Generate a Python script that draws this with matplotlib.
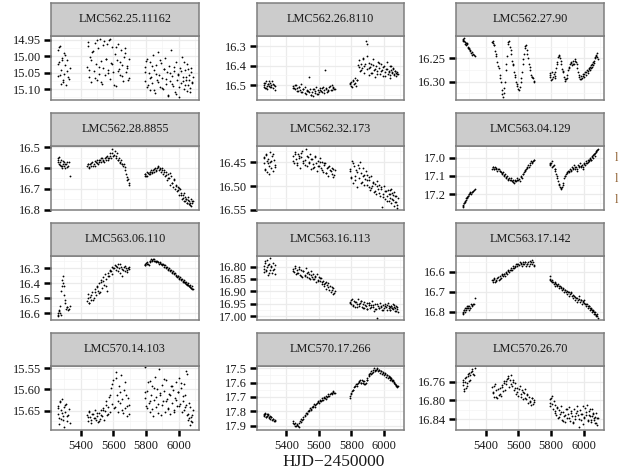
import matplotlib
matplotlib.use("Agg")
import matplotlib.pyplot as plt

# ---------------- data ----------------
season1 = [5261, 5265, 5270, 5274, 5279, 5283, 5288, 5293, 5297, 5302, 5307, 5313, 5319, 5326, 5333]
season2 = [5441, 5448, 5454, 5461, 5467, 5473, 5480, 5486, 5493, 5499,
           5505, 5512, 5518, 5525, 5531, 5537, 5544, 5550, 5557, 5563,
           5569, 5576, 5582, 5589, 5595, 5601, 5608, 5614, 5621, 5627,
           5633, 5640, 5646, 5653, 5659, 5665, 5672, 5678, 5685, 5697]
season3 = [5791, 5796, 5803, 5808, 5815, 5821, 5826, 5833, 5839, 5844,
           5851, 5857, 5862, 5869, 5875, 5880, 5887, 5893, 5898, 5905,
           5911, 5916, 5923, 5929, 5934, 5941, 5947, 5952, 5959, 5965,
           5970, 5977, 5983, 5988, 5995, 6001, 6006, 6013, 6019, 6024,
           6031, 6037, 6042, 6049, 6055, 6060, 6067, 6073, 6078, 6085]
extra1 = [5263, 5268, 5277, 5286, 5295, 5305, 5316, 5329]
extra2 = [5444, 5451, 5464, 5477, 5490, 5502, 5515, 5528, 5540, 5553, 5566,
          5579, 5592, 5604, 5617, 5630, 5643, 5656, 5669, 5682, 5689, 5694]
extra3 = [5794, 5800, 5811, 5824, 5836, 5848, 5859, 5872, 5884, 5896,
          5908, 5920, 5932, 5944, 5956, 5968, 5980, 5992, 6004, 6016,
          6028, 6034, 6040, 6046, 6052, 6058, 6064, 6070, 6076, 6082]
hjd = season1 + season2 + season3 + extra1 + extra2 + extra3

star_names = ["LMC562.25.11162", "LMC562.26.8110", "LMC562.27.90",
              "LMC562.28.8855", "LMC562.32.173", "LMC563.04.129",
              "LMC563.06.110", "LMC563.16.113", "LMC563.17.142",
              "LMC570.14.103", "LMC570.17.266", "LMC570.26.70"]

mag_562_25_11162 = [
    14.982, 15.061, 15.018, 14.967, 15.083, 15.041, 15.004, 15.072, 14.991, 15.053, 15.027, 15.088, 15.012, 15.064, 15.036,
    15.031, 14.968, 15.062, 15.003, 15.079, 14.987, 15.044, 14.959, 15.022, 15.071,
    14.976, 15.053, 14.948, 15.014, 15.084, 15.036, 14.953, 15.058, 15.007, 14.962,
    15.042, 14.951, 15.068, 15.019, 14.972, 15.049, 14.993, 15.089, 15.011, 14.963,
    15.038, 15.057, 14.981, 15.026, 15.076, 15.002, 14.974, 15.047, 15.029, 15.066,
    15.032, 15.074, 15.009, 15.093, 15.051, 15.104, 15.018, 15.063, 15.082, 14.997,
    15.043, 15.112, 15.027, 15.071, 14.988, 15.056, 15.094, 15.021, 15.067, 15.101,
    15.039, 15.006, 15.084, 15.048, 15.118, 15.029, 15.076, 14.982, 15.061, 15.091,
    15.044, 15.108, 15.017, 15.073, 15.053, 15.124, 15.034, 15.081, 15.003, 15.064,
    15.098, 15.041, 15.072, 15.023, 15.087, 15.057, 15.109, 15.036, 15.079, 15.062,
    15.024, 14.973, 15.058, 15.012, 15.079, 14.995, 15.046, 15.068,
    14.957, 15.041, 15.012, 14.983, 15.067, 14.951, 15.033, 15.078, 14.965, 15.008,
    15.052, 14.946, 15.024, 15.086, 14.971, 15.044, 15.016, 15.061, 14.989, 15.035,
    15.073, 15.009,
    15.047, 15.013, 15.088, 15.066, 15.028, 15.102, 15.054, 15.077, 15.011, 15.095,
    15.039, 15.069, 15.121, 15.052, 15.083, 15.031, 15.114, 15.058, 15.092, 15.044,
    15.074, 15.016, 15.087, 15.063, 15.105, 15.038, 15.071, 15.097, 15.049, 15.082]

mag_562_26_8110 = [
    16.498, 16.487, 16.512, 16.479, 16.503, 16.519, 16.491, 16.505, 16.508, 16.486, 16.497, 16.476, 16.514, 16.501, 16.522,
    16.503, 16.512, 16.521, 16.497, 16.516, 16.531, 16.508, 16.524, 16.495, 16.533,
    16.518, 16.507, 16.542, 16.523, 16.529, 16.458, 16.519, 16.547, 16.534, 16.556,
    16.521, 16.538, 16.511, 16.544, 16.526, 16.532, 16.514, 16.527, 16.536, 16.509,
    16.524, 16.421, 16.513, 16.535, 16.522, 16.508, 16.526, 16.497, 16.515, 16.521,
    16.496, 16.483, 16.511, 16.472, 16.493, 16.462, 16.502, 16.474, 16.398, 16.372,
    16.428, 16.391, 16.412, 16.362, 16.437, 16.403, 16.272, 16.418, 16.291, 16.384,
    16.447, 16.409, 16.393, 16.438, 16.366, 16.421, 16.457, 16.401, 16.429, 16.382,
    16.413, 16.442, 16.394, 16.423, 16.452, 16.404, 16.431, 16.417, 16.379, 16.443,
    16.426, 16.461, 16.403, 16.434, 16.412, 16.441, 16.425, 16.452, 16.433, 16.444,
    16.507, 16.489, 16.515, 16.496, 16.478, 16.511, 16.493, 16.505,
    16.515, 16.498, 16.527, 16.509, 16.533, 16.517, 16.541, 16.528, 16.536, 16.552,
    16.519, 16.531, 16.545, 16.523, 16.512, 16.537, 16.518, 16.529, 16.506, 16.523,
    16.511, 16.519,
    16.489, 16.505, 16.478, 16.486, 16.471, 16.405, 16.421, 16.367, 16.394, 16.351,
    16.412, 16.436, 16.397, 16.418, 16.445, 16.389, 16.427, 16.408, 16.452, 16.416,
    16.433, 16.402, 16.447, 16.421, 16.438, 16.415, 16.449, 16.427, 16.436, 16.441]

mag_562_27_90 = [
    16.210, 16.208, 16.213, 16.215, 16.218, 16.222, 16.220, 16.226, 16.230, 16.228, 16.235, 16.238, 16.242, 16.240, 16.245,
    16.215, 16.218, 16.222, 16.235, 16.245, 16.258, 16.270, 16.285, 16.300, 16.318,
    16.332, 16.325, 16.300, 16.275, 16.245, 16.220, 16.212, 16.225, 16.240, 16.255,
    16.265, 16.280, 16.290, 16.300, 16.310, 16.315, 16.312, 16.300, 16.280, 16.262,
    16.240, 16.228, 16.222, 16.232, 16.250, 16.262, 16.275, 16.285, 16.290, 16.298,
    16.285, 16.290, 16.278, 16.295, 16.283, 16.292, 16.288, 16.270, 16.258, 16.248,
    16.242, 16.250, 16.262, 16.272, 16.280, 16.290, 16.298, 16.295, 16.285, 16.275,
    16.268, 16.262, 16.258, 16.265, 16.255, 16.262, 16.252, 16.258, 16.270, 16.280,
    16.290, 16.295, 16.288, 16.292, 16.283, 16.290, 16.280, 16.285, 16.275, 16.282,
    16.270, 16.275, 16.265, 16.268, 16.258, 16.260, 16.250, 16.245, 16.238, 16.252,
    16.212, 16.206, 16.219, 16.217, 16.228, 16.233, 16.236, 16.243,
    16.213, 16.221, 16.241, 16.266, 16.292, 16.327, 16.314, 16.262, 16.214, 16.232,
    16.262, 16.286, 16.304, 16.318, 16.291, 16.251, 16.224, 16.241, 16.268, 16.289,
    16.292, 16.301,
    16.281, 16.296, 16.289, 16.279, 16.262, 16.244, 16.256, 16.276, 16.294, 16.291,
    16.271, 16.259, 16.261, 16.256, 16.263, 16.285, 16.293, 16.287, 16.284, 16.279,
    16.277, 16.272, 16.269, 16.271, 16.262, 16.264, 16.255, 16.248, 16.242, 16.247]

mag_562_28_8855 = [
    16.56, 16.55, 16.58, 16.57, 16.59, 16.56, 16.60, 16.58, 16.57, 16.59, 16.60, 16.58, 16.57, 16.59, 16.64,
    16.59, 16.58, 16.60, 16.58, 16.59, 16.57, 16.58, 16.59, 16.57, 16.56,
    16.58, 16.57, 16.56, 16.57, 16.55, 16.56, 16.57, 16.55, 16.56, 16.54,
    16.56, 16.55, 16.53, 16.55, 16.51, 16.54, 16.52, 16.55, 16.53, 16.56,
    16.55, 16.57, 16.56, 16.58, 16.59, 16.58, 16.61, 16.63, 16.66, 16.68,
    16.64, 16.63, 16.64, 16.62, 16.63, 16.62, 16.63, 16.61, 16.62, 16.61,
    16.62, 16.60, 16.61, 16.60, 16.59, 16.61, 16.60, 16.62, 16.60, 16.63,
    16.61, 16.64, 16.62, 16.66, 16.63, 16.65, 16.68, 16.64, 16.67, 16.69,
    16.66, 16.70, 16.68, 16.71, 16.69, 16.73, 16.70, 16.72, 16.75, 16.73,
    16.76, 16.74, 16.75, 16.77, 16.74, 16.76, 16.78, 16.75, 16.77, 16.76,
    16.573, 16.548, 16.586, 16.592, 16.566, 16.583, 16.595, 16.571,
    16.583, 16.596, 16.574, 16.588, 16.566, 16.574, 16.563, 16.552, 16.566, 16.548,
    16.553, 16.542, 16.528, 16.536, 16.544, 16.562, 16.574, 16.581, 16.596, 16.642,
    16.655, 16.672,
    16.628, 16.637, 16.626, 16.618, 16.624, 16.607, 16.614, 16.596, 16.605, 16.611,
    16.618, 16.633, 16.648, 16.626, 16.672, 16.655, 16.688, 16.708, 16.694, 16.731,
    16.742, 16.722, 16.761, 16.748, 16.768, 16.752, 16.774, 16.766, 16.781, 16.758]

mag_562_32_173 = [
    16.452, 16.438, 16.463, 16.431, 16.447, 16.471, 16.442, 16.458, 16.449, 16.428, 16.461, 16.437, 16.468, 16.445, 16.456,
    16.437, 16.452, 16.428, 16.443, 16.455, 16.433, 16.441, 16.462, 16.438, 16.426,
    16.451, 16.444, 16.421, 16.457, 16.439, 16.448, 16.432, 16.463, 16.442, 16.454,
    16.459, 16.436, 16.451, 16.468, 16.447, 16.458, 16.441, 16.462, 16.449, 16.471,
    16.456, 16.452, 16.473, 16.461, 16.478, 16.457, 16.469, 16.462, 16.481, 16.466,
    16.468, 16.482, 16.447, 16.493, 16.458, 16.479, 16.466, 16.502, 16.455, 16.484,
    16.449, 16.472, 16.491, 16.461, 16.477, 16.498, 16.469, 16.488, 16.476, 16.503,
    16.487, 16.509, 16.479, 16.501, 16.492, 16.512, 16.496, 16.518, 16.489, 16.507,
    16.498, 16.521, 16.506, 16.545, 16.516, 16.499, 16.528, 16.511, 16.522, 16.508,
    16.531, 16.517, 16.506, 16.527, 16.519, 16.512, 16.533, 16.521, 16.541, 16.526,
    16.441, 16.466, 16.435, 16.452, 16.474, 16.446, 16.433, 16.459,
    16.446, 16.431, 16.452, 16.437, 16.429, 16.447, 16.455, 16.436, 16.451, 16.443,
    16.461, 16.439, 16.457, 16.448, 16.466, 16.451, 16.472, 16.459, 16.467, 16.474,
    16.463, 16.476,
    16.463, 16.481, 16.452, 16.487, 16.471, 16.462, 16.494, 16.478, 16.485, 16.497,
    16.481, 16.504, 16.493, 16.511, 16.499, 16.515, 16.503, 16.524, 16.511, 16.532,
    16.518, 16.509, 16.526, 16.537, 16.515, 16.529, 16.543, 16.522, 16.534, 16.546]

mag_563_04_129 = [
    17.27, 17.26, 17.25, 17.24, 17.23, 17.22, 17.22, 17.21, 17.20, 17.20, 17.19, 17.20, 17.19, 17.18, 17.17,
    17.06, 17.05, 17.06, 17.05, 17.06, 17.07, 17.06, 17.07, 17.08, 17.09,
    17.08, 17.10, 17.09, 17.11, 17.10, 17.12, 17.11, 17.12, 17.11, 17.13,
    17.12, 17.14, 17.12, 17.13, 17.11, 17.12, 17.13, 17.10, 17.11, 17.09,
    17.08, 17.07, 17.06, 17.05, 17.04, 17.05, 17.03, 17.02, 17.03, 17.01,
    17.03, 17.04, 17.02, 17.05, 17.04, 17.06, 17.07, 17.09, 17.11, 17.13,
    17.15, 17.16, 17.17, 17.16, 17.14, 17.11, 17.10, 17.09, 17.08, 17.07,
    17.08, 17.06, 17.07, 17.05, 17.06, 17.04, 17.06, 17.05, 17.07, 17.04,
    17.05, 17.03, 17.05, 17.04, 17.06, 17.03, 17.04, 17.02, 17.03, 17.01,
    17.02, 17.00, 17.01, 16.99, 17.00, 16.98, 16.99, 16.97, 16.96, 16.95,
    17.266, 17.248, 17.236, 17.214, 17.208, 17.193, 17.188, 17.176,
    17.052, 17.061, 17.058, 17.064, 17.072, 17.083, 17.094, 17.104, 17.116, 17.124,
    17.131, 17.128, 17.122, 17.118, 17.104, 17.088, 17.066, 17.054, 17.038, 17.024,
    17.019, 17.012,
    17.036, 17.028, 17.044, 17.063, 17.098, 17.142, 17.163, 17.151, 17.102, 17.085,
    17.074, 17.066, 17.058, 17.052, 17.061, 17.048, 17.043, 17.052, 17.036, 17.028,
    17.022, 17.013, 17.006, 17.012, 16.994, 16.987, 16.982, 16.973, 16.962, 16.957]

mag_563_06_110 = [
    16.60, 16.62, 16.58, 16.55, 16.61, 16.45, 16.38, 16.35, 16.42, 16.48, 16.53, 16.57, 16.56, 16.58, 16.55,
    16.52, 16.47, 16.53, 16.49, 16.51, 16.46, 16.50, 16.44, 16.48, 16.42,
    16.45, 16.40, 16.46, 16.38, 16.43, 16.36, 16.41, 16.34, 16.37, 16.45,
    16.33, 16.35, 16.31, 16.32, 16.29, 16.30, 16.28, 16.31, 16.29, 16.27,
    16.30, 16.33, 16.29, 16.35, 16.31, 16.29, 16.32, 16.30, 16.31, 16.29,
    16.28, 16.27, 16.27, 16.26, 16.28, 16.26, 16.25, 16.24, 16.25, 16.24,
    16.25, 16.25, 16.26, 16.25, 16.26, 16.27, 16.26, 16.27, 16.28, 16.27,
    16.29, 16.28, 16.30, 16.29, 16.31, 16.30, 16.32, 16.31, 16.33, 16.32,
    16.34, 16.33, 16.35, 16.36, 16.35, 16.37, 16.36, 16.38, 16.37, 16.39,
    16.38, 16.40, 16.39, 16.41, 16.40, 16.42, 16.41, 16.43, 16.42, 16.44,
    16.612, 16.587, 16.596, 16.418, 16.396, 16.512, 16.561, 16.572,
    16.496, 16.534, 16.478, 16.512, 16.457, 16.423, 16.468, 16.392, 16.386, 16.418,
    16.352, 16.318, 16.337, 16.296, 16.282, 16.316, 16.274, 16.306, 16.284, 16.322,
    16.296, 16.308,
    16.276, 16.262, 16.274, 16.253, 16.246, 16.238, 16.251, 16.257, 16.262, 16.273,
    16.281, 16.292, 16.304, 16.313, 16.322, 16.331, 16.342, 16.351, 16.362, 16.374,
    16.383, 16.391, 16.394, 16.402, 16.408, 16.412, 16.418, 16.426, 16.431, 16.438]

mag_563_16_113 = [
    16.796, 16.821, 16.784, 16.812, 16.772, 16.803, 16.834, 16.789, 16.815, 16.765, 16.798, 16.826, 16.786, 16.809, 16.831,
    16.809, 16.823, 16.797, 16.831, 16.814, 16.826, 16.803, 16.835, 16.812, 16.841,
    16.818, 16.833, 16.806, 16.844, 16.822, 16.829, 16.852, 16.817, 16.842, 16.831,
    16.849, 16.836, 16.861, 16.828, 16.853, 16.844, 16.859, 16.848, 16.872, 16.857,
    16.878, 16.866, 16.889, 16.874, 16.868, 16.893, 16.902, 16.884, 16.912, 16.897,
    16.942, 16.951, 16.933, 16.954, 16.939, 16.962, 16.944, 16.951, 16.931, 16.958,
    16.947, 16.938, 16.964, 16.952, 16.969, 16.943, 16.961, 16.949, 16.972, 16.957,
    16.946, 16.968, 16.955, 16.941, 16.963, 16.978, 16.952, 16.971, 17.008, 16.959,
    16.967, 16.948, 16.962, 16.976, 16.957, 16.969, 16.951, 16.963, 16.974, 16.946,
    16.961, 16.977, 16.958, 16.968, 16.953, 16.964, 16.981, 16.959, 16.972, 16.984,
    16.808, 16.778, 16.817, 16.794, 16.826, 16.801, 16.813, 16.792,
    16.816, 16.806, 16.827, 16.811, 16.836, 16.819, 16.839, 16.826, 16.845, 16.833,
    16.851, 16.842, 16.857, 16.846, 16.864, 16.871, 16.862, 16.883, 16.879, 16.894,
    16.887, 16.905,
    16.947, 16.936, 16.958, 16.944, 16.962, 16.951, 16.939, 16.966, 16.955, 16.971,
    16.948, 16.963, 16.957, 16.973, 16.952, 16.967, 16.959, 16.975, 16.961, 16.954,
    16.969, 16.963, 16.977, 16.958, 16.966, 16.972, 16.955, 16.968, 16.979, 16.962]

mag_563_17_142 = [
    16.80, 16.81, 16.79, 16.80, 16.78, 16.79, 16.77, 16.78, 16.79, 16.77, 16.78, 16.76, 16.77, 16.76, 16.73,
    16.64, 16.65, 16.63, 16.65, 16.64, 16.63, 16.64, 16.62, 16.63, 16.61,
    16.62, 16.61, 16.62, 16.60, 16.61, 16.59, 16.60, 16.59, 16.58, 16.59,
    16.57, 16.58, 16.57, 16.56, 16.57, 16.56, 16.55, 16.56, 16.57, 16.55,
    16.56, 16.55, 16.57, 16.56, 16.55, 16.57, 16.56, 16.55, 16.54, 16.57,
    16.62, 16.64, 16.65, 16.64, 16.66, 16.65, 16.67, 16.66, 16.67, 16.66,
    16.68, 16.67, 16.68, 16.69, 16.68, 16.70, 16.69, 16.70, 16.71, 16.70,
    16.72, 16.71, 16.70, 16.72, 16.73, 16.72, 16.74, 16.73, 16.75, 16.74,
    16.72, 16.75, 16.74, 16.76, 16.75, 16.74, 16.76, 16.77, 16.76, 16.78,
    16.77, 16.79, 16.78, 16.80, 16.79, 16.81, 16.80, 16.82, 16.81, 16.83,
    16.806, 16.792, 16.784, 16.781, 16.773, 16.782, 16.768, 16.761,
    16.643, 16.636, 16.648, 16.628, 16.638, 16.618, 16.612, 16.604, 16.596, 16.588,
    16.581, 16.574, 16.562, 16.566, 16.553, 16.562, 16.548, 16.559, 16.546, 16.562,
    16.551, 16.566,
    16.634, 16.646, 16.652, 16.658, 16.664, 16.672, 16.676, 16.684, 16.691, 16.696,
    16.703, 16.708, 16.718, 16.726, 16.731, 16.738, 16.742, 16.748, 16.756, 16.762,
    16.771, 16.774, 16.781, 16.786, 16.792, 16.798, 16.804, 16.811, 16.817, 16.824]

mag_570_14_103 = [
    15.657, 15.638, 15.681, 15.627, 15.669, 15.648, 15.622, 15.663, 15.641, 15.688, 15.652, 15.633, 15.674, 15.659, 15.679,
    15.661, 15.673, 15.652, 15.664, 15.679, 15.657, 15.668, 15.649, 15.671, 15.662,
    15.677, 15.655, 15.669, 15.647, 15.663, 15.643, 15.672, 15.651, 15.628, 15.659,
    15.641, 15.618, 15.652, 15.596, 15.634, 15.578, 15.642, 15.558, 15.612, 15.653,
    15.592, 15.631, 15.567, 15.622, 15.656, 15.601, 15.644, 15.613, 15.662, 15.637,
    15.621, 15.548, 15.643, 15.603, 15.632, 15.581, 15.652, 15.614, 15.592, 15.663,
    15.624, 15.571, 15.641, 15.598, 15.633, 15.552, 15.612, 15.661, 15.589, 15.628,
    15.604, 15.653, 15.578, 15.622, 15.644, 15.611, 15.658, 15.593, 15.631, 15.602,
    15.649, 15.619, 15.583, 15.638, 15.607, 15.572, 15.634, 15.597, 15.652, 15.616,
    15.588, 15.642, 15.557, 15.661, 15.671, 15.632, 15.683, 15.664, 15.676, 15.648,
    15.643, 15.667, 15.629, 15.654, 15.671, 15.636, 15.662, 15.645,
    15.664, 15.651, 15.672, 15.658, 15.667, 15.654, 15.673, 15.661, 15.648, 15.636,
    15.657, 15.614, 15.588, 15.643, 15.573, 15.627, 15.606, 15.648, 15.582, 15.639,
    15.621, 15.658,
    15.606, 15.638, 15.582, 15.626, 15.645, 15.597, 15.617, 15.654, 15.609, 15.637,
    15.575, 15.628, 15.646, 15.613, 15.591, 15.652, 15.624, 15.606, 15.639, 15.585,
    15.627, 15.648, 15.612, 15.636, 15.563, 15.657, 15.668, 15.641, 15.673, 15.659]

mag_570_17_266 = [
    17.82, 17.83, 17.81, 17.84, 17.82, 17.83, 17.82, 17.84, 17.83, 17.85, 17.84, 17.86, 17.85, 17.87, 17.86,
    17.87, 17.89, 17.88, 17.90, 17.89, 17.90, 17.88, 17.87, 17.85, 17.86,
    17.84, 17.83, 17.81, 17.82, 17.80, 17.79, 17.78, 17.79, 17.77, 17.76,
    17.75, 17.77, 17.75, 17.74, 17.73, 17.74, 17.72, 17.73, 17.71, 17.72,
    17.70, 17.71, 17.69, 17.70, 17.68, 17.69, 17.67, 17.68, 17.66, 17.67,
    17.71, 17.68, 17.66, 17.65, 17.63, 17.62, 17.61, 17.62, 17.60, 17.59,
    17.58, 17.60, 17.58, 17.60, 17.61, 17.59, 17.60, 17.57, 17.58, 17.55,
    17.54, 17.53, 17.52, 17.53, 17.51, 17.50, 17.52, 17.51, 17.50, 17.52,
    17.51, 17.53, 17.52, 17.54, 17.53, 17.55, 17.54, 17.56, 17.55, 17.57,
    17.56, 17.58, 17.57, 17.59, 17.58, 17.60, 17.61, 17.62, 17.63, 17.62,
    17.826, 17.818, 17.836, 17.827, 17.843, 17.838, 17.852, 17.864,
    17.884, 17.902, 17.894, 17.909, 17.872, 17.851, 17.826, 17.813, 17.796, 17.784,
    17.768, 17.756, 17.738, 17.731, 17.722, 17.706, 17.712, 17.692, 17.681, 17.674,
    17.662, 17.671,
    17.692, 17.671, 17.648, 17.626, 17.608, 17.594, 17.604, 17.589, 17.606, 17.582,
    17.556, 17.538, 17.524, 17.512, 17.506, 17.514, 17.521, 17.528, 17.536, 17.548,
    17.554, 17.566, 17.561, 17.574, 17.582, 17.588, 17.596, 17.608, 17.614, 17.622]

mag_570_26_70 = [
    16.768, 16.757, 16.781, 16.762, 16.774, 16.751, 16.763, 16.748, 16.742, 16.758, 16.746, 16.739, 16.734, 16.743, 16.731,
    16.771, 16.784, 16.792, 16.766, 16.779, 16.796, 16.788, 16.774, 16.791, 16.768,
    16.781, 16.759, 16.777, 16.766, 16.754, 16.748, 16.771, 16.757, 16.746, 16.769,
    16.756, 16.778, 16.764, 16.787, 16.773, 16.791, 16.769, 16.786, 16.778, 16.797,
    16.784, 16.776, 16.798, 16.789, 16.806, 16.792, 16.801, 16.809, 16.796, 16.804,
    16.798, 16.812, 16.791, 16.807, 16.801, 16.822, 16.809, 16.831, 16.817, 16.838,
    16.821, 16.829, 16.812, 16.841, 16.824, 16.833, 16.846, 16.819, 16.837, 16.828,
    16.814, 16.843, 16.822, 16.834, 16.848, 16.818, 16.839, 16.827, 16.811, 16.832,
    16.856, 16.821, 16.842, 16.829, 16.813, 16.838, 16.817, 16.831, 16.809, 16.843,
    16.823, 16.834, 16.841, 16.819, 16.827, 16.838, 16.848, 16.826, 16.852, 16.837,
    16.761, 16.776, 16.752, 16.769, 16.744, 16.756, 16.738, 16.747,
    16.782, 16.769, 16.793, 16.776, 16.787, 16.772, 16.763, 16.758, 16.752, 16.766,
    16.761, 16.774, 16.782, 16.775, 16.793, 16.782, 16.794, 16.787, 16.803, 16.795,
    16.808, 16.799,
    16.806, 16.794, 16.818, 16.826, 16.815, 16.836, 16.824, 16.844, 16.831, 16.819,
    16.837, 16.826, 16.845, 16.833, 16.822, 16.839, 16.828, 16.851, 16.835, 16.824,
    16.842, 16.831, 16.819, 16.846, 16.833, 16.828, 16.841, 16.836, 16.849, 16.838]

star_mags = [mag_562_25_11162, mag_562_26_8110, mag_562_27_90,
             mag_562_28_8855, mag_562_32_173, mag_563_04_129,
             mag_563_06_110, mag_563_16_113, mag_563_17_142,
             mag_570_14_103, mag_570_17_266, mag_570_26_70]

ytick_labels = [["14.95", "15.00", "15.05", "15.10"],
                ["16.3", "16.4", "16.5"],
                ["16.25", "16.30"],
                ["16.5", "16.6", "16.7", "16.8"],
                ["16.45", "16.50", "16.55"],
                ["17.0", "17.1", "17.2"],
                ["16.3", "16.4", "16.5", "16.6"],
                ["16.80", "16.85", "16.90", "16.95", "17.00"],
                ["16.6", "16.7", "16.8"],
                ["15.55", "15.60", "15.65"],
                ["17.5", "17.6", "17.7", "17.8", "17.9"],
                ["16.76", "16.80", "16.84"]]

xtick_labels = ["5400", "5600", "5800", "6000"]
x_title = "HJD\u22122450000"

# ---------------- layout / style ----------------
y_limits = [(15.133, 14.938), (16.575, 16.249), (16.339, 16.202),
            (16.802, 16.494), (16.551, 16.415), (17.286, 16.936),
            (16.645, 16.218), (17.016, 16.757), (16.842, 16.520),
            (15.695, 15.545), (17.930, 17.484), (16.863, 16.727)]
x_limits = (5220, 6123)

W, H = 624, 474
col_x = [(51, 199), (257, 404), (456, 604)]
row_top = [36, 146, 256, 366]
panel_h = 64
strip_h = 33

SERIF = ["Liberation Serif", "DejaVu Serif"]
border_col = "#7f7f7f"
grid_col = "#ebebeb"

fig = plt.figure(figsize=(W / 100, H / 100), dpi=100)
fig.patch.set_facecolor("white")

for i, (name, mags) in enumerate(zip(star_names, star_mags)):
    assert len(mags) == len(hjd), (name, len(mags), len(hjd))
    r, c = divmod(i, 3)
    x0, x1 = col_x[c]
    top = row_top[r]
    ax = fig.add_axes([x0 / W, 1 - (top + panel_h) / H, (x1 - x0) / W, panel_h / H])
    ax.set_facecolor("white")
    ax.scatter(hjd, mags, s=1.7, c="#000000", linewidths=0, zorder=3)
    ax.set_xlim(*x_limits)
    ax.set_ylim(*y_limits[i])

    xt = [float(v) for v in xtick_labels]
    ax.set_xticks(xt)
    ax.set_xticks([5300, 5500, 5700, 5900, 6100], minor=True)
    yt = [float(v) for v in ytick_labels[i]]
    ax.set_yticks(yt)
    ax.set_yticklabels(ytick_labels[i], family=SERIF, fontsize=8.9, color="#1a1a1a")
    step = yt[1] - yt[0]
    lo, hi = min(y_limits[i]), max(y_limits[i])
    minors = [yt[0] + step * (k + 0.5) for k in range(-3, len(yt) + 3)]
    ax.set_yticks([m for m in minors if lo <= m <= hi], minor=True)

    ax.grid(which="major", color=grid_col, linewidth=0.9, zorder=0)
    ax.grid(which="minor", color="#f4f4f4", linewidth=0.5, zorder=0)
    ax.set_axisbelow(True)
    ax.tick_params(which="minor", length=0)
    ax.tick_params(axis="y", which="major", length=4.8, width=1.8, color="black", pad=2.5)
    if r == 3:
        ax.set_xticklabels(xtick_labels, family=SERIF, fontsize=8.9, color="#1a1a1a")
        ax.tick_params(axis="x", which="major", length=4.5, width=1.8, color="black", pad=2.5)
    else:
        ax.tick_params(axis="x", which="major", length=0, labelbottom=False)
    for sp in ax.spines.values():
        sp.set_color(border_col)
        sp.set_linewidth(1.1)

    sax = fig.add_axes([x0 / W, 1 - top / H, (x1 - x0) / W, strip_h / H])
    sax.set_facecolor("#cccccc")
    sax.set_xticks([])
    sax.set_yticks([])
    for sp in sax.spines.values():
        sp.set_color(border_col)
        sp.set_linewidth(1.1)
    sax.text(0.5, 0.5, name, ha="center", va="center", transform=sax.transAxes,
             family=SERIF, fontsize=8.8, color="#1a1a1a")

fig.text(334 / W, 1 - 462 / H, x_title, ha="center", va="center",
         family=SERIF, fontsize=12.5, color="#1a1a1a")

for yy in (158, 179, 200):
    fig.text(615 / W, 1 - yy / H, "l", ha="left", va="center",
             family=SERIF, fontsize=9, color="#8b5a2b")

fig.savefig("out.png", dpi=100)
